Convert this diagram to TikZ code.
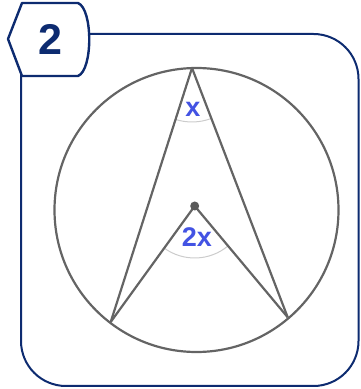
\documentclass[tikz,border=0pt]{standalone}
\usepackage{fontspec}
\setmainfont{Liberation Sans}
\usetikzlibrary{angles}
\definecolor{navy}{HTML}{0D2B70}
\definecolor{geo}{HTML}{646464}
\definecolor{arcgray}{HTML}{CCCCCC}
\definecolor{lbl}{HTML}{4353E3}
\begin{document}
\begin{tikzpicture}[x=1pt,y=1pt,
  framestyle/.style={draw=navy,line width=2pt},
  geoline/.style={draw=geo,line width=2.2pt},
  anglearc/.style={draw=arcgray,line width=1pt},
  lbltext/.style={text=lbl,font=\fontsize{27}{32}\selectfont\bfseries,inner sep=0pt}]
\useasboundingbox (0,0) rectangle (360,389);
% frame
\draw[framestyle,rounded corners=45pt] (21,3) rectangle (358.5,355);
% badge
\draw[framestyle,line width=2.4pt,fill=white,line join=round]
  (8,350) -- (22,386) -- (78,386) .. controls (93,380) and (93,319) .. (78,313) -- (22,313) -- cycle;
\node[text=navy,font=\fontsize{43}{50}\selectfont\bfseries,inner sep=0pt] (num) at (50,349.5) {2};
% geometry
\coordinate (C) at (196.5,179);
\coordinate (A) at (192,321);
\coordinate (L) at (110.7,67);
\coordinate (R) at (287.7,71.7);
\coordinate (O) at (194.7,183);
\draw pic[anglearc,angle radius=54pt] {angle=L--A--R};
\draw pic[anglearc,angle radius=52pt] {angle=L--O--R};
\draw[geoline] (C) circle[radius=142];
\draw[geoline,line join=round] (L) -- (A) -- (R);
\draw[geoline,line join=round] (L) -- (O) -- (R);
\fill[geo!90!black] (O) circle[radius=4.5];
\node[lbltext] (lx) at (193,280) {x};
\node[lbltext] (l2x) at (197,152) {2x};
\end{tikzpicture}
\end{document}
